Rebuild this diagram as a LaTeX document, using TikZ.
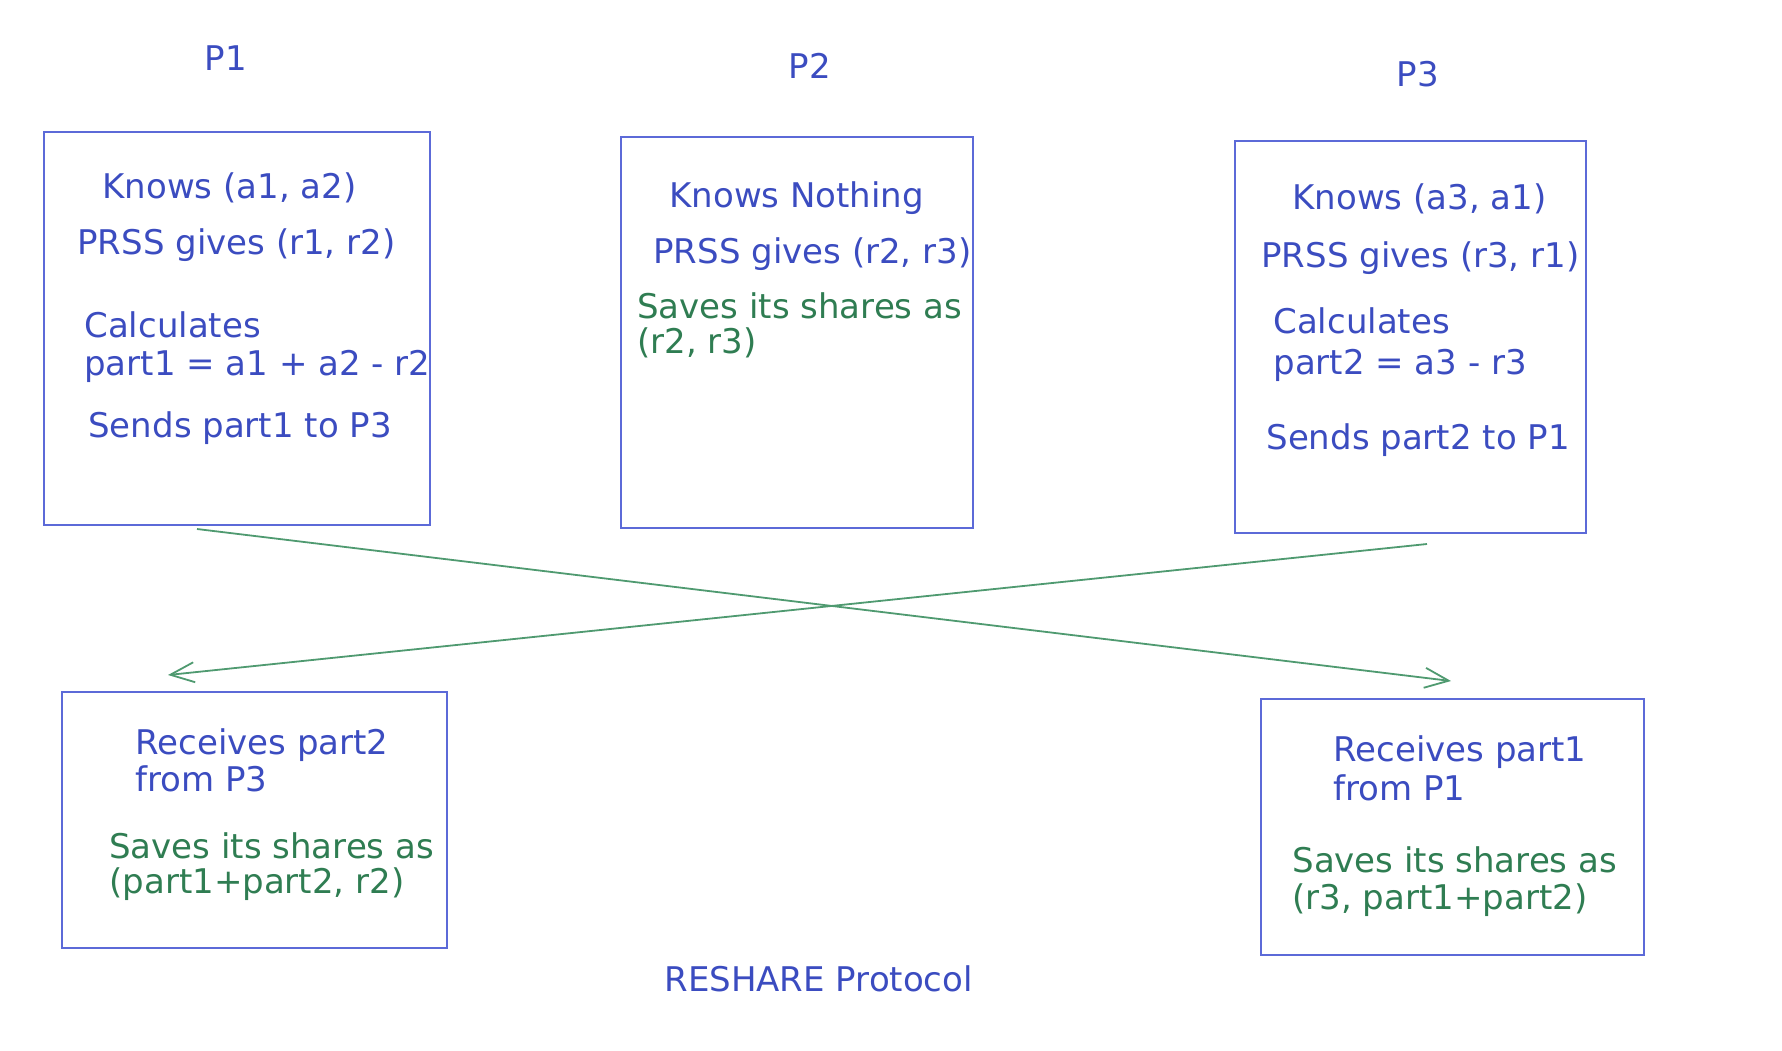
\documentclass[tikz,border=0pt]{standalone}
\usepackage{fontspec}
\setsansfont{DejaVu Sans}
\usetikzlibrary{positioning, arrows.meta}
\definecolor{inkblue}{HTML}{3B4CC0}
\definecolor{inkgreen}{HTML}{2F7D52}
\definecolor{boxblue}{HTML}{5C6AD8}
\definecolor{arrowgreen}{HTML}{4F9A70}
\begin{document}
\begin{tikzpicture}[
  x=0.5pt, y=-0.5pt,
  font=\sffamily\fontsize{17}{20}\selectfont,
  party/.style={draw=boxblue, line width=0.9pt, anchor=north west, inner sep=0pt},
  txt/.style={text=inkblue, anchor=base west, inner sep=0pt},
  share/.style={text=inkgreen, anchor=base west, inner sep=0pt},
  head/.style={text=inkblue, anchor=base, inner sep=0pt},
  msg/.style={draw=arrowgreen, line width=0.9pt, -{Straight Barb[length=12pt, width=10pt]}}
]
\useasboundingbox (0,0) rectangle (1782,1050);

% party labels
\node[head] (P1) at (226,70) {P1};
\node[head] (P2) at (810,78) {P2};
\node[head] (P3) at (1418,86) {P3};

% P1 box
\node[party, minimum width=193pt, minimum height=196.5pt] (b1) at (43,131) {};
\node[txt] (k1) at (102,198) {Knows (a1, a2)};
\node[txt] (r1) at (77,254) {PRSS gives (r1, r2)};
\node[txt] (c1) at (84,337) {Calculates};
\node[txt] (e1) at (84,375) {part1 = a1 + a2 - r2};
\node[txt] (s1) at (88,437) {Sends part1 to P3};

% P2 box
\node[party, minimum width=176pt, minimum height=195.5pt] (b2) at (620,136) {};
\node[txt] (k2) at (669,207) {Knows Nothing};
\node[txt] (r2) at (653,263) {PRSS gives (r2, r3)};
\node[share] (v2) at (637,318) {Saves its shares as};
\node[share] (w2) at (637,353) {(r2, r3)};

% P3 box
\node[party, minimum width=175.5pt, minimum height=196pt] (b3) at (1234,140) {};
\node[txt] (k3) at (1292,209) {Knows (a3, a1)};
\node[txt] (r3) at (1261,267) {PRSS gives (r3, r1)};
\node[txt] (c3) at (1273,333) {Calculates};
\node[txt] (e3) at (1273,374) {part2 = a3 - r3};
\node[txt] (s3) at (1266,449) {Sends part2 to P1};

% P1 after reshare
\node[party, minimum width=192.5pt, minimum height=128pt] (b4) at (61,691) {};
\node[txt] (g4) at (135,754) {Receives part2};
\node[txt] (f4) at (135,791) {from P3};
\node[share] (v4) at (109,858) {Saves its shares as};
\node[share] (w4) at (109,893) {(part1+part2, r2)};

% P3 after reshare
\node[party, minimum width=191.5pt, minimum height=128pt] (b5) at (1260,698) {};
\node[txt] (g5) at (1333,761) {Receives part1};
\node[txt] (f5) at (1333,800) {from P1};
\node[share] (v5) at (1292,872) {Saves its shares as};
\node[share] (w5) at (1292,909) {(r3, part1+part2)};

% messages
\coordinate (m1a) at (197,529);
\coordinate (m1b) at (1451,681);
\coordinate (m2a) at (1427,544);
\coordinate (m2b) at (168,675);
\draw[msg] (m1a) -- (m1b);
\draw[msg] (m2a) -- (m2b);

\node[txt] (title) at (664,991) {RESHARE Protocol};

\end{tikzpicture}
\end{document}
